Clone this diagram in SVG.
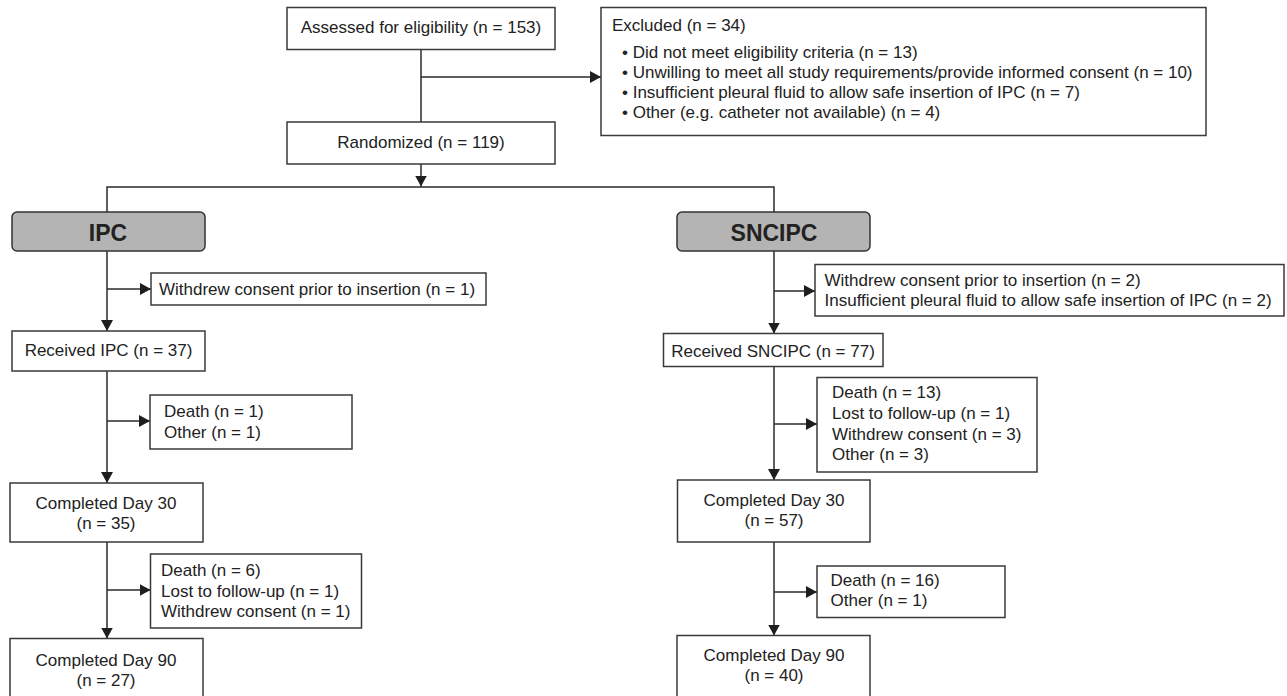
<svg xmlns="http://www.w3.org/2000/svg" width="1287" height="696" viewBox="0 0 1287 696">
<style>
  .box { fill: #ffffff; stroke: #3a3a3a; stroke-width: 1.5; }
  .arm { fill: #b4b4b4; stroke: #333333; stroke-width: 1.5; }
  .t { font-family: "Liberation Sans", Arial, sans-serif; font-size: 17px; fill: #222222; }
  .c { text-anchor: middle; }
  .b { font-family: "Liberation Sans", Arial, sans-serif; font-size: 23px; font-weight: bold; fill: #222222; text-anchor: middle; }
  .ln { fill: none; stroke: #2a2a2a; stroke-width: 1.5; }
</style>
<defs>
  <marker id="ah" markerUnits="userSpaceOnUse" markerWidth="12" markerHeight="13" refX="11" refY="6" orient="auto">
    <path d="M0,0 L11,6 L0,12 z" fill="#1e1e1e"/>
  </marker>
</defs>
<rect width="1287" height="696" fill="#ffffff"/>
<g id="connectors">
  <line class="ln" x1="421" y1="49" x2="421" y2="122"/>
  <line class="ln" x1="421" y1="77" x2="601" y2="77" marker-end="url(#ah)"/>
  <line class="ln" x1="421" y1="164" x2="421" y2="186.5" marker-end="url(#ah)"/>
  <polyline class="ln" points="107,212 107,187 774,187 774,212"/>
  <line class="ln" x1="107" y1="251" x2="107" y2="331" marker-end="url(#ah)"/>
  <line class="ln" x1="107" y1="289" x2="151" y2="289" marker-end="url(#ah)"/>
  <line class="ln" x1="107" y1="371" x2="107" y2="483" marker-end="url(#ah)"/>
  <line class="ln" x1="107" y1="421" x2="150" y2="421" marker-end="url(#ah)"/>
  <line class="ln" x1="107" y1="542" x2="107" y2="638.5" marker-end="url(#ah)"/>
  <line class="ln" x1="107" y1="590" x2="150.5" y2="590" marker-end="url(#ah)"/>
  <line class="ln" x1="774" y1="251" x2="774" y2="333.5" marker-end="url(#ah)"/>
  <line class="ln" x1="774" y1="291" x2="815" y2="291" marker-end="url(#ah)"/>
  <line class="ln" x1="774" y1="366.5" x2="774" y2="480" marker-end="url(#ah)"/>
  <line class="ln" x1="774" y1="424" x2="817" y2="424" marker-end="url(#ah)"/>
  <line class="ln" x1="774" y1="542" x2="774" y2="635.5" marker-end="url(#ah)"/>
  <line class="ln" x1="774" y1="592" x2="817" y2="592" marker-end="url(#ah)"/>
</g>
<g id="assessed">
  <rect class="box" x="287" y="7.5" width="268" height="42"/>
  <text class="t c" x="421" y="33">Assessed for eligibility (n = 153)</text>
</g>
<g id="excluded">
  <rect class="box" x="601" y="7.5" width="605" height="128"/>
  <text class="t" x="612" y="31">Excluded (n = 34)</text>
  <text class="t" x="622" y="57.5">• Did not meet eligibility criteria (n = 13)</text>
  <text class="t" x="622" y="77.5">• Unwilling to meet all study requirements/provide informed consent (n = 10)</text>
  <text class="t" x="622" y="97.5">• Insufficient pleural fluid to allow safe insertion of IPC (n = 7)</text>
  <text class="t" x="622" y="117.5">• Other (e.g. catheter not available) (n = 4)</text>
</g>
<g id="randomized">
  <rect class="box" x="287" y="122" width="268" height="42"/>
  <text class="t c" x="421" y="147.5">Randomized (n = 119)</text>
</g>
<g id="ipc">
  <rect class="arm" x="12" y="212" width="193" height="39" rx="5"/>
  <text class="b" x="108" y="241">IPC</text>
</g>
<g id="sncipc">
  <rect class="arm" x="677" y="212" width="193" height="39" rx="5"/>
  <text class="b" x="774" y="241">SNCIPC</text>
</g>
<g id="ipc-withdrew">
  <rect class="box" x="151" y="273" width="335" height="32"/>
  <text class="t" x="159" y="295">Withdrew consent prior to insertion (n = 1)</text>
</g>
<g id="ipc-received">
  <rect class="box" x="12" y="331" width="193" height="40"/>
  <text class="t c" x="108.5" y="356">Received IPC (n = 37)</text>
</g>
<g id="ipc-loss30">
  <rect class="box" x="150" y="395" width="202" height="54"/>
  <text class="t" x="164" y="416.5">Death (n = 1)</text>
  <text class="t" x="164" y="437.5">Other (n = 1)</text>
</g>
<g id="ipc-day30">
  <rect class="box" x="10" y="483" width="193" height="59"/>
  <text class="t c" x="106" y="508.5">Completed Day 30</text>
  <text class="t c" x="106" y="529">(n = 35)</text>
</g>
<g id="ipc-loss90">
  <rect class="box" x="150.5" y="554" width="211" height="74"/>
  <text class="t" x="161" y="576">Death (n = 6)</text>
  <text class="t" x="161" y="596.5">Lost to follow-up (n = 1)</text>
  <text class="t" x="161" y="616.7">Withdrew consent (n = 1)</text>
</g>
<g id="ipc-day90">
  <rect class="box" x="10" y="638.5" width="193" height="70"/>
  <text class="t c" x="106" y="666">Completed Day 90</text>
  <text class="t c" x="106" y="686">(n = 27)</text>
</g>
<g id="sncipc-withdrew">
  <rect class="box" x="815" y="264.5" width="469" height="51.5"/>
  <text class="t" x="824.5" y="285.5">Withdrew consent prior to insertion (n = 2)</text>
  <text class="t" x="824.5" y="305.5">Insufficient pleural fluid to allow safe insertion of IPC (n = 2)</text>
</g>
<g id="sncipc-received">
  <rect class="box" x="663.5" y="333.5" width="219.5" height="33"/>
  <text class="t c" x="773" y="357">Received SNCIPC (n = 77)</text>
</g>
<g id="sncipc-loss30">
  <rect class="box" x="817" y="377.5" width="220" height="94.5"/>
  <text class="t" x="832" y="397.5">Death (n = 13)</text>
  <text class="t" x="832" y="418.5">Lost to follow-up (n = 1)</text>
  <text class="t" x="832" y="439.5">Withdrew consent (n = 3)</text>
  <text class="t" x="832" y="459.5">Other (n = 3)</text>
</g>
<g id="sncipc-day30">
  <rect class="box" x="677.5" y="480" width="192.5" height="62"/>
  <text class="t c" x="774" y="505.5">Completed Day 30</text>
  <text class="t c" x="774" y="526">(n = 57)</text>
</g>
<g id="sncipc-loss90">
  <rect class="box" x="817" y="566" width="188" height="51.5"/>
  <text class="t" x="830.5" y="585.7">Death (n = 16)</text>
  <text class="t" x="830.5" y="605.7">Other (n = 1)</text>
</g>
<g id="sncipc-day90">
  <rect class="box" x="677" y="635.5" width="193" height="70"/>
  <text class="t c" x="774" y="661">Completed Day 90</text>
  <text class="t c" x="774" y="681">(n = 40)</text>
</g>
</svg>
